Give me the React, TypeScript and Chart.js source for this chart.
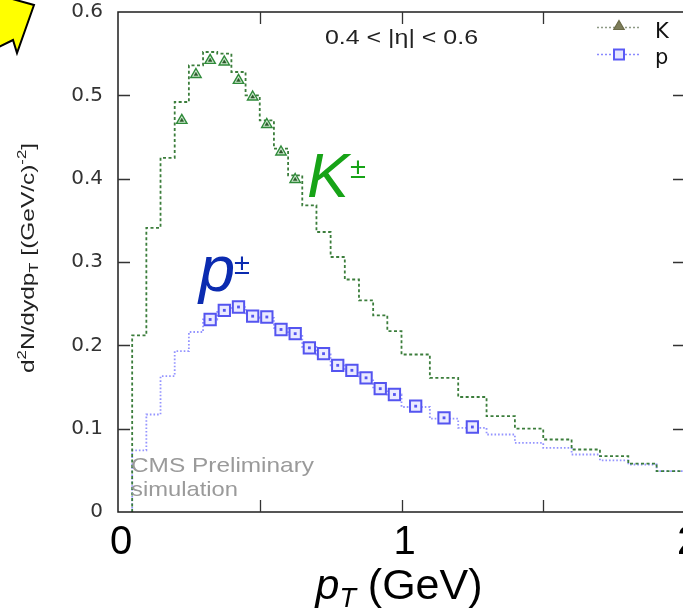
import React, { useEffect, useRef } from 'react';
import { Chart, registerables } from 'chart.js';

Chart.register(...registerables);

// ---- data ----
const binEdges = [
  0.05, 0.1, 0.15, 0.2, 0.25, 0.3, 0.35, 0.4, 0.45, 0.5, 0.55, 0.6, 0.65, 0.7, 0.75,
  0.8, 0.85, 0.9, 0.95, 1.0, 1.1, 1.2, 1.3, 1.4, 1.5, 1.6, 1.7, 1.8, 1.9, 2.0,
];
const kaonSim = [
  0.212, 0.341, 0.425, 0.492, 0.536, 0.552, 0.550, 0.528, 0.500, 0.470, 0.436, 0.404,
  0.368, 0.336, 0.306, 0.279, 0.254, 0.236, 0.217, 0.189, 0.161, 0.138, 0.115, 0.100,
  0.087, 0.075, 0.067, 0.058, 0.049,
];
const protonSim = [
  0.074, 0.117, 0.163, 0.193, 0.216, 0.231, 0.242, 0.246, 0.236, 0.233, 0.221, 0.213,
  0.198, 0.189, 0.176, 0.169, 0.160, 0.148, 0.141, 0.126, 0.112, 0.101, 0.093, 0.083,
  0.077, 0.069, 0.062, 0.057, 0.049,
];
const kaonPt = [0.225, 0.275, 0.325, 0.375, 0.425, 0.475, 0.525, 0.575, 0.625];
const kaonYield = [0.470, 0.525, 0.542, 0.540, 0.518, 0.498, 0.465, 0.432, 0.399];
const protonPt = [
  0.325, 0.375, 0.425, 0.475, 0.525, 0.575, 0.625, 0.675, 0.725, 0.775, 0.825, 0.875,
  0.925, 0.975, 1.05, 1.15, 1.25,
];
const protonYield = [
  0.231, 0.242, 0.246, 0.235, 0.234, 0.219, 0.214, 0.197, 0.190, 0.176, 0.170, 0.161,
  0.148, 0.141, 0.127, 0.113, 0.102,
];
const legendLabels = ['K', 'p'];
const etaText = '0.4 < |η| < 0.6';
const cmsLines = ['CMS Preliminary', 'simulation'];

// ---- styles ----
const K_LINE = '#3b7d3b';
const P_LINE = '#9494ff';
const K_MARK = '#2f8a3a';
const P_MARK = '#5454f0';
const SANS = '"Liberation Sans", Arial, sans-serif';
const DEJAVU = '"DejaVu Sans", sans-serif';

function stepPoints(edges: number[], vals: number[]) {
  const pts = [{ x: edges[0], y: 0 }];
  vals.forEach((v, i) => {
    pts.push({ x: edges[i], y: v });
    pts.push({ x: edges[i + 1], y: v });
  });
  return pts;
}

type Seg = { t: string; size: number; dy?: number; style?: string; family?: string };

function segFont(s: Seg) {
  return `${s.style || ''} ${s.size}px ${s.family || SANS}`;
}
function richWidth(ctx: CanvasRenderingContext2D, segs: Seg[]) {
  let w = 0;
  segs.forEach((s) => {
    ctx.font = segFont(s);
    w += ctx.measureText(s.t).width;
  });
  return w;
}
function drawRich(ctx: CanvasRenderingContext2D, segs: Seg[], x: number, y: number) {
  let cx = x;
  segs.forEach((s) => {
    ctx.font = segFont(s);
    ctx.fillText(s.t, cx, y + (s.dy || 0));
    cx += ctx.measureText(s.t).width;
  });
}
// draw text stretched horizontally to a target width
function fitText(
  ctx: CanvasRenderingContext2D,
  text: string,
  font: string,
  x: number,
  y: number,
  targetW: number,
) {
  ctx.font = font;
  const w = ctx.measureText(text).width;
  ctx.save();
  ctx.translate(x, y);
  ctx.scale(targetW / w, 1);
  ctx.fillText(text, 0, 0);
  ctx.restore();
}

function drawTriangle(ctx: CanvasRenderingContext2D, x: number, y: number, r: number) {
  ctx.beginPath();
  ctx.moveTo(x, y - r);
  ctx.lineTo(x + r * 0.866, y + r * 0.5);
  ctx.lineTo(x - r * 0.866, y + r * 0.5);
  ctx.closePath();
}

const overlay = {
  id: 'overlay',
  afterDraw(chart: any) {
    const { ctx, chartArea: a, scales } = chart;
    const xs = scales.x;
    const ys = scales.y;
    ctx.save();
    ctx.setLineDash([]);

    // frame
    ctx.strokeStyle = '#1e1e1e';
    ctx.lineWidth = 1.5;
    ctx.strokeRect(a.left, a.top, a.right - a.left, a.bottom - a.top);

    // inward ticks
    const tl = 12;
    ctx.lineWidth = 1.3;
    ctx.strokeStyle = '#333';
    ctx.beginPath();
    xs.ticks.forEach((t: any) => {
      if (t.value <= xs.min || t.value >= xs.max) return;
      const px = Math.round(xs.getPixelForValue(t.value)) + 0.5;
      ctx.moveTo(px, a.bottom);
      ctx.lineTo(px, a.bottom - tl);
      ctx.moveTo(px, a.top);
      ctx.lineTo(px, a.top + tl);
    });
    ys.ticks.forEach((t: any) => {
      if (t.value <= ys.min || t.value >= ys.max) return;
      const py = Math.round(ys.getPixelForValue(t.value)) + 0.5;
      ctx.moveTo(a.left, py);
      ctx.lineTo(a.left + tl, py);
      ctx.moveTo(a.right, py);
      ctx.lineTo(a.right - tl, py);
    });
    ctx.stroke();

    // eta range text
    ctx.fillStyle = '#222';
    ctx.textBaseline = 'alphabetic';
    ctx.textAlign = 'left';
    fitText(ctx, etaText, `20px ${SANS}`, 325, 44, 153);

    // CMS text
    ctx.fillStyle = '#9a9a9a';
    fitText(ctx, cmsLines[0], `21px ${SANS}`, 131, 472, 183);
    fitText(ctx, cmsLines[1], `21px ${SANS}`, 131, 496, 107);

    // K± and p± labels
    ctx.fillStyle = '#17a317';
    drawRich(ctx, [{ t: 'K', size: 63, style: 'italic' }], 307, 197);
    ctx.font = `29px ${SANS}`;
    ctx.fillText('±', 350, 178);
    ctx.fillStyle = '#0b2bb0';
    drawRich(ctx, [{ t: 'p', size: 65, style: 'italic' }], 199, 291);
    ctx.font = `29px ${SANS}`;
    ctx.fillText('±', 234, 274);

    // legend
    const lx0 = 597;
    const lx1 = 640;
    const lm = 619;
    // K entry
    ctx.lineWidth = 1.6;
    ctx.strokeStyle = '#8e9a86';
    ctx.setLineDash([2, 2]);
    ctx.beginPath();
    ctx.moveTo(lx0, 27.5);
    ctx.lineTo(lx1, 27.5);
    ctx.stroke();
    ctx.setLineDash([]);
    drawTriangle(ctx, lm, 26.5, 6);
    ctx.fillStyle = '#7d7d5a';
    ctx.fill();
    ctx.strokeStyle = '#6b6b48';
    ctx.lineWidth = 1.2;
    ctx.stroke();
    // p entry
    ctx.lineWidth = 1.6;
    ctx.strokeStyle = '#8a8aff';
    ctx.setLineDash([2, 2]);
    ctx.beginPath();
    ctx.moveTo(lx0, 54.5);
    ctx.lineTo(lx1, 54.5);
    ctx.stroke();
    ctx.setLineDash([]);
    ctx.fillStyle = '#e6e6ff';
    ctx.fillRect(lm - 5, 49.5, 10, 10);
    ctx.strokeStyle = '#5a5af5';
    ctx.lineWidth = 2;
    ctx.strokeRect(lm - 5, 49.5, 10, 10);
    ctx.fillStyle = '#111';
    ctx.font = `21px ${DEJAVU}`;
    ctx.fillText(legendLabels[0], 655, 38);
    ctx.fillText(legendLabels[1], 655, 64);

    // y-axis title (rotated)
    const ySegs: Seg[] = [
      { t: 'd', size: 19 },
      { t: '2', size: 13, dy: -8 },
      { t: 'N/dydp', size: 19 },
      { t: 'T', size: 13, dy: 4 },
      { t: ' [(GeV/c)', size: 19 },
      { t: '-2', size: 13, dy: -8 },
      { t: ']', size: 19 },
    ];
    ctx.fillStyle = '#222';
    const yw = richWidth(ctx, ySegs);
    ctx.save();
    ctx.translate(34, 258);
    ctx.rotate(-Math.PI / 2);
    ctx.scale(230 / yw, 1);
    drawRich(ctx, ySegs, -yw / 2, 0);
    ctx.restore();

    // x-axis title
    const xSegs: Seg[] = [
      { t: 'p', size: 43, style: 'italic' },
      { t: 'T', size: 27, style: 'italic', dy: 8 },
      { t: ' (GeV)', size: 43 },
    ];
    ctx.fillStyle = '#000';
    const xw = richWidth(ctx, xSegs);
    drawRich(ctx, xSegs, 399 - xw / 2, 599);

    // yellow arrow fragment (top-left corner)
    ctx.beginPath();
    ctx.moveTo(-20, -10);
    ctx.lineTo(34, 5);
    ctx.lineTo(17, 53);
    ctx.lineTo(13, 40);
    ctx.lineTo(-20, 56);
    ctx.closePath();
    ctx.fillStyle = '#ffff00';
    ctx.fill();
    ctx.strokeStyle = '#000';
    ctx.lineWidth = 2;
    ctx.stroke();

    ctx.restore();
  },
};

export default function App() {
  const ref = useRef<HTMLCanvasElement>(null);
  useEffect(() => {
    if (!ref.current) return;
    const chart = new Chart(ref.current, {
      type: 'scatter',
      data: {
        datasets: [
          {
            label: 'K sim',
            data: stepPoints(binEdges, kaonSim),
            showLine: true,
            borderColor: K_LINE,
            borderWidth: 1.8,
            borderDash: [3, 2.5],
            pointRadius: 0,
            order: 10,
          },
          {
            label: 'p sim',
            data: stepPoints(binEdges, protonSim),
            showLine: true,
            borderColor: P_LINE,
            borderWidth: 1.8,
            borderDash: [1.6, 2],
            pointRadius: 0,
            order: 11,
          },
          {
            label: legendLabels[0],
            data: kaonPt.map((x, i) => ({ x, y: kaonYield[i] })),
            pointStyle: 'triangle',
            pointRadius: 6,
            borderColor: K_MARK,
            backgroundColor: '#cfe8cf',
            borderWidth: 1.4,
            order: 2,
          },
          {
            label: legendLabels[0] + ' core',
            data: kaonPt.map((x, i) => ({ x, y: kaonYield[i] })),
            pointStyle: 'triangle',
            pointRadius: 2.2,
            borderColor: '#2a5a2a',
            backgroundColor: '#2a5a2a',
            borderWidth: 0.5,
            order: 1,
          },
          {
            label: legendLabels[1],
            data: protonPt.map((x, i) => ({ x, y: protonYield[i] })),
            pointStyle: 'rect',
            pointRadius: 8,
            borderColor: P_MARK,
            backgroundColor: '#eaeaff',
            borderWidth: 2,
            order: 2,
          },
          {
            label: legendLabels[1] + ' core',
            data: protonPt.map((x, i) => ({ x, y: protonYield[i] })),
            pointStyle: 'rect',
            pointRadius: 2,
            borderColor: P_MARK,
            backgroundColor: P_MARK,
            borderWidth: 0,
            order: 1,
          },
        ],
      },
      options: {
        animation: false,
        responsive: false,
        events: [],
        layout: { padding: { left: 0, top: 12, right: 15, bottom: 0 } },
        plugins: { legend: { display: false }, tooltip: { enabled: false } },
        scales: {
          x: {
            type: 'linear',
            min: 0,
            max: 2,
            grid: { display: false, drawTicks: false },
            border: { display: false },
            ticks: {
              stepSize: 0.5,
              autoSkip: false,
              maxRotation: 0,
              padding: 7,
              labelOffset: 3,
              color: '#000',
              font: { family: SANS, size: 40 },
              callback: (v: any) => (Number.isInteger(v) ? String(v) : ''),
            },
            afterFit: (s: any) => {
              s.height = 101;
              s.paddingLeft = 0;
              s.paddingRight = 0;
              s.paddingTop = 0;
              s.paddingBottom = 0;
            },
          },
          y: {
            type: 'linear',
            min: 0,
            max: 0.6,
            grid: { display: false, drawTicks: false },
            border: { display: false },
            ticks: {
              stepSize: 0.1,
              padding: 15,
              color: '#333',
              font: { family: DEJAVU, size: 20 },
            },
            afterFit: (s: any) => {
              s.width = 118;
              s.paddingLeft = 0;
              s.paddingRight = 0;
              s.paddingTop = 0;
              s.paddingBottom = 0;
            },
          },
        },
      },
      plugins: [overlay],
    });
    return () => chart.destroy();
  }, []);

  return (
    <div
      style={{
        position: 'fixed',
        left: 0,
        top: 0,
        width: 683,
        height: 613,
        overflow: 'hidden',
        background: '#fff',
      }}
    >
      <canvas ref={ref} width={700} height={613} style={{ display: 'block' }} />
    </div>
  );
}
